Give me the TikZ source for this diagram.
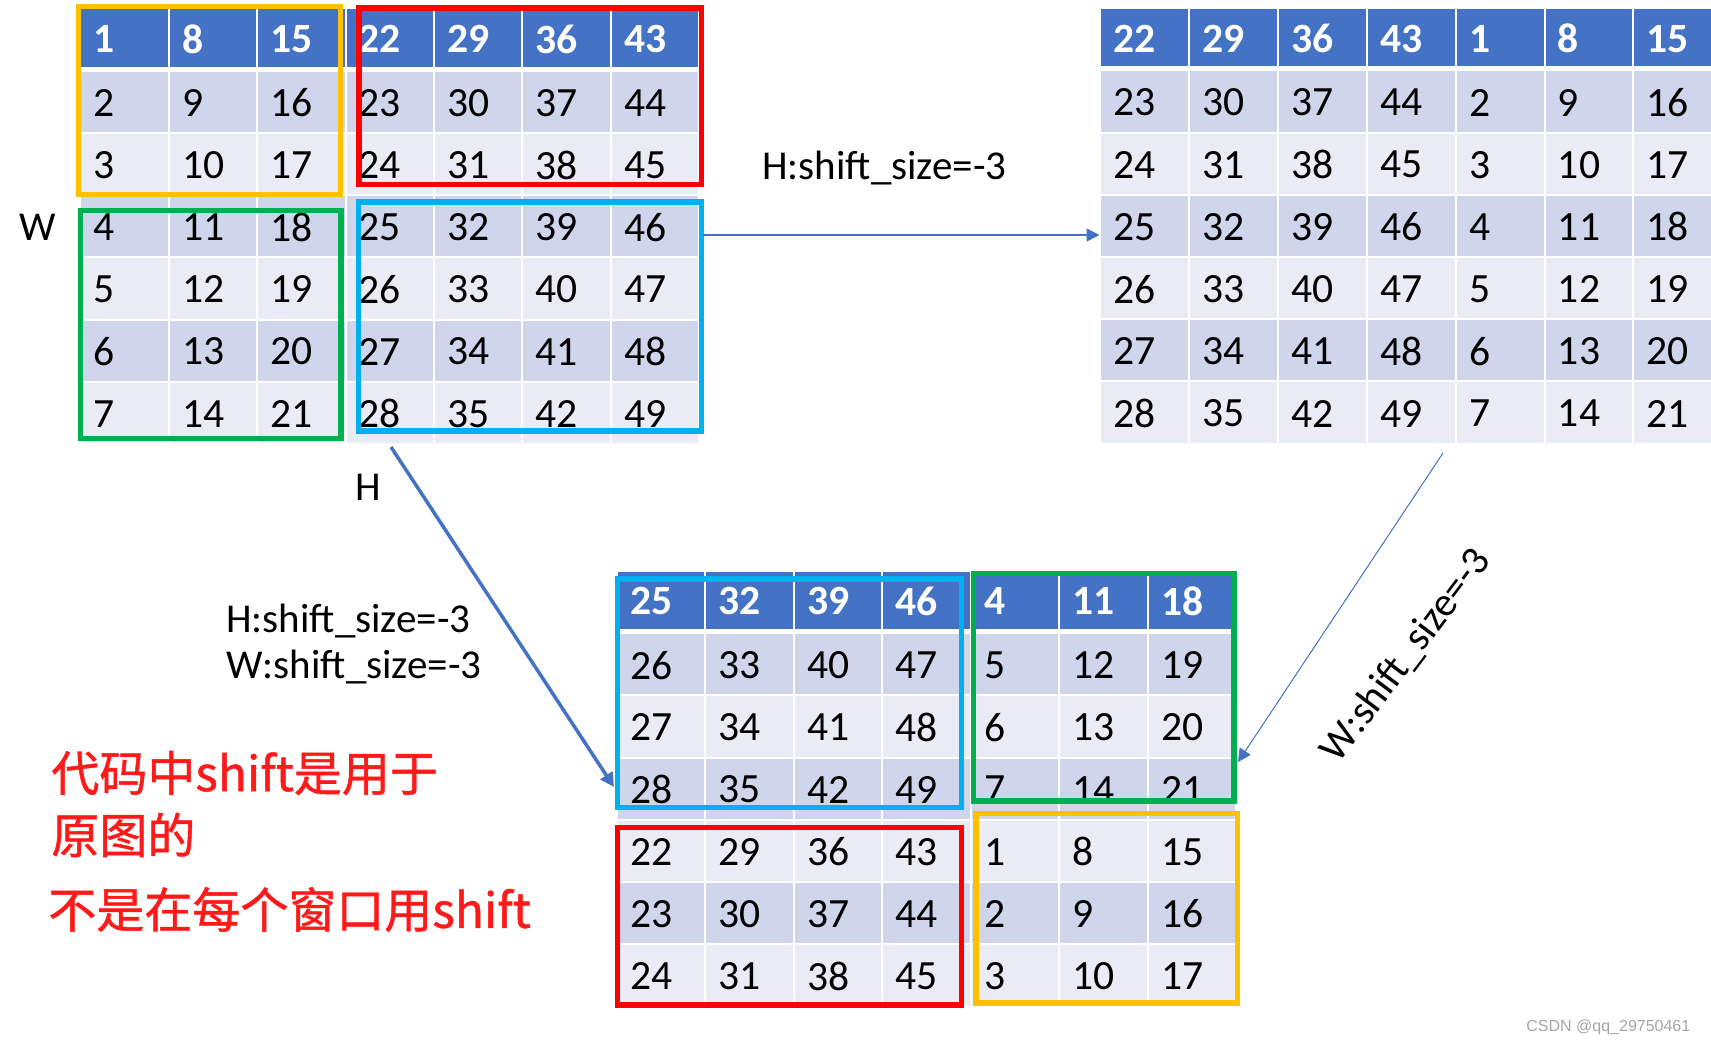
\documentclass[tikz,border=0pt]{standalone}
\usepackage{fontspec}
\setmainfont{Carlito}
\newfontfamily\cjkfont[FakeBold=1]{Noto Sans CJK SC}
\newfontfamily\wmfont{Liberation Sans}
\usetikzlibrary{arrows.meta}
\definecolor{hdr}{HTML}{4472C4}
\definecolor{rowdark}{HTML}{CFD5EA}
\definecolor{rowlight}{HTML}{E9EBF5}
\definecolor{boxorange}{HTML}{FFC000}
\definecolor{boxred}{HTML}{FF0000}
\definecolor{boxgreen}{HTML}{00B050}
\definecolor{boxcyan}{HTML}{00B0F0}
\definecolor{arrowblue}{HTML}{4472C4}
\definecolor{cjkred}{HTML}{FF1A1A}
\definecolor{wmgrey}{HTML}{A6A6A6}
% #1 name, #2 left, #3 top, #4 column width, #5 rows
\newcommand\gridtable[5]{%
  \foreach \rowvals [count=\r from 0] in {#5} {
    \foreach \v [count=\c from 0] in \rowvals {
      \pgfmathsetmacro\xa{#2+\c*#4+1}
      \pgfmathsetmacro\xb{#2+(\c+1)*#4-1}
      \ifnum\r=0
        \pgfmathsetmacro\ya{#3}
        \pgfmathsetmacro\yb{#3+57.4}
        \def\cellfill{hdr}\def\cellfont{\bfseries\color{white}}
      \else
        \pgfmathsetmacro\ya{#3+62.4+(\r-1)*62.2}
        \pgfmathsetmacro\yb{\ya+60.2}
        \ifodd\r\relax \def\cellfill{rowdark}\else \def\cellfill{rowlight}\fi
        \def\cellfont{\color{black}}
      \fi
      \pgfmathsetmacro\ym{(\ya+\yb)/2+1}
      \fill[\cellfill] (\xa,\ya) rectangle (\xb,\yb);
      \node[numtxt, anchor=west] (#1-\r-\c) at (\xa+12,\ym) {\cellfont\v};
    }
  }
}
\begin{document}
\begin{tikzpicture}[x=0.5pt,y=-0.5pt,
  numtxt/.style={inner sep=0pt, font=\fontsize{20.8}{24}\selectfont},
  lbl/.style={inner sep=0pt, font=\fontsize{20.5}{24}\selectfont, text=black},
  cjk/.style={inner sep=0pt, font=\cjkfont\fontsize{24}{28}\selectfont, text=cjkred},
  boxline/.style={line width=2.75pt},
  thinarrow/.style={draw=arrowblue, line width=0.7pt, -{Triangle[length=6.5pt,width=6.5pt]}},
  thinnerarrow/.style={draw=arrowblue, line width=0.5pt, -{Triangle[length=6.5pt,width=6.5pt]}},
  thickarrow/.style={draw=arrowblue, line width=1.75pt, -{Triangle[length=7pt,width=7pt]}}]
\useasboundingbox (0,0) rectangle (1711,1041);
\clip (0,0) rectangle (1711,1041);
\fill[white] (0,0) rectangle (1711,1041);

\gridtable{tl}{80.3}{9.3}{88.4}{{1,8,15,22,29,36,43},{2,9,16,23,30,37,44},{3,10,17,24,31,38,45},{4,11,18,25,32,39,46},{5,12,19,26,33,40,47},{6,13,20,27,34,41,48},{7,14,21,28,35,42,49}}
\gridtable{tr}{1100}{9}{88.9}{{22,29,36,43,1,8,15},{23,30,37,44,2,9,16},{24,31,38,45,3,10,17},{25,32,39,46,4,11,18},{26,33,40,47,5,12,19},{27,34,41,48,6,13,20},{28,35,42,49,7,14,21}}
\gridtable{bt}{616.6}{571.7}{88.5}{{25,32,39,46,4,11,18},{26,33,40,47,5,12,19},{27,34,41,48,6,13,20},{28,35,42,49,7,14,21},{22,29,36,43,1,8,15},{23,30,37,44,2,9,16},{24,31,38,45,3,10,17}}

% window boxes, top-left picture
\draw[boxline, boxorange] (78.3,6.7) rectangle (340.5,194.5);
\draw[boxline, boxred] (358.8,7.8) rectangle (701.4,184.5);
\draw[boxline, boxgreen] (80.6,210.5) rectangle (341,438.4);
\draw[boxline, boxcyan] (358.4,202) rectangle (701.4,430.8);
% window boxes, bottom picture
\draw[boxline, boxcyan] (617.6,578.8) rectangle (961.7,807.5);
\draw[boxline, boxgreen] (973.3,573.3) rectangle (1234,800.8);
\draw[boxline, boxred] (617.6,827.5) rectangle (961.7,1005);
\draw[boxline, boxorange] (976.2,813.3) rectangle (1237.4,1003.2);

% labels
\node[lbl, anchor=base west] (wlab) at (19,240) {W};
\node[lbl, anchor=base west] (hlab) at (355,500) {H};
\node[lbl, anchor=base west] (hs1) at (762,179) {H:shift\_size=-3};
\node[lbl, anchor=base west] (hs2) at (226,632) {H:shift\_size=-3};
\node[lbl, anchor=base west] (ws2) at (226,678) {W:shift\_size=-3};
\node[lbl, rotate=53] (ws3) at (1406,656) {W:shift\_size=-3};

\node[cjk, anchor=west] (c1) at (51,773) {代码中shift是用于};
\node[cjk, anchor=west] (c2) at (51,835) {原图的};
\node[cjk, anchor=west] (c3) at (48,909.5) {不是在每个窗口用shift};

\node[anchor=base west, inner sep=0pt, font=\wmfont\fontsize{8}{10}\selectfont, text=wmgrey] (wm) at (1526,1031) {CSDN @qq\_29750461};

% connectors
\coordinate (a1s) at (703,235);
\coordinate (a1e) at (1099.5,235);
\draw[thinarrow] (a1s) -- (a1e);
\coordinate (a2s) at (391,447);
\coordinate (a2e) at (614,787);
\draw[thickarrow] (a2s) -- (a2e);
\coordinate (a3s) at (1443,453);
\coordinate (a3e) at (1238,762);
\draw[thinnerarrow] (a3s) -- (a3e);
\end{tikzpicture}
\end{document}
